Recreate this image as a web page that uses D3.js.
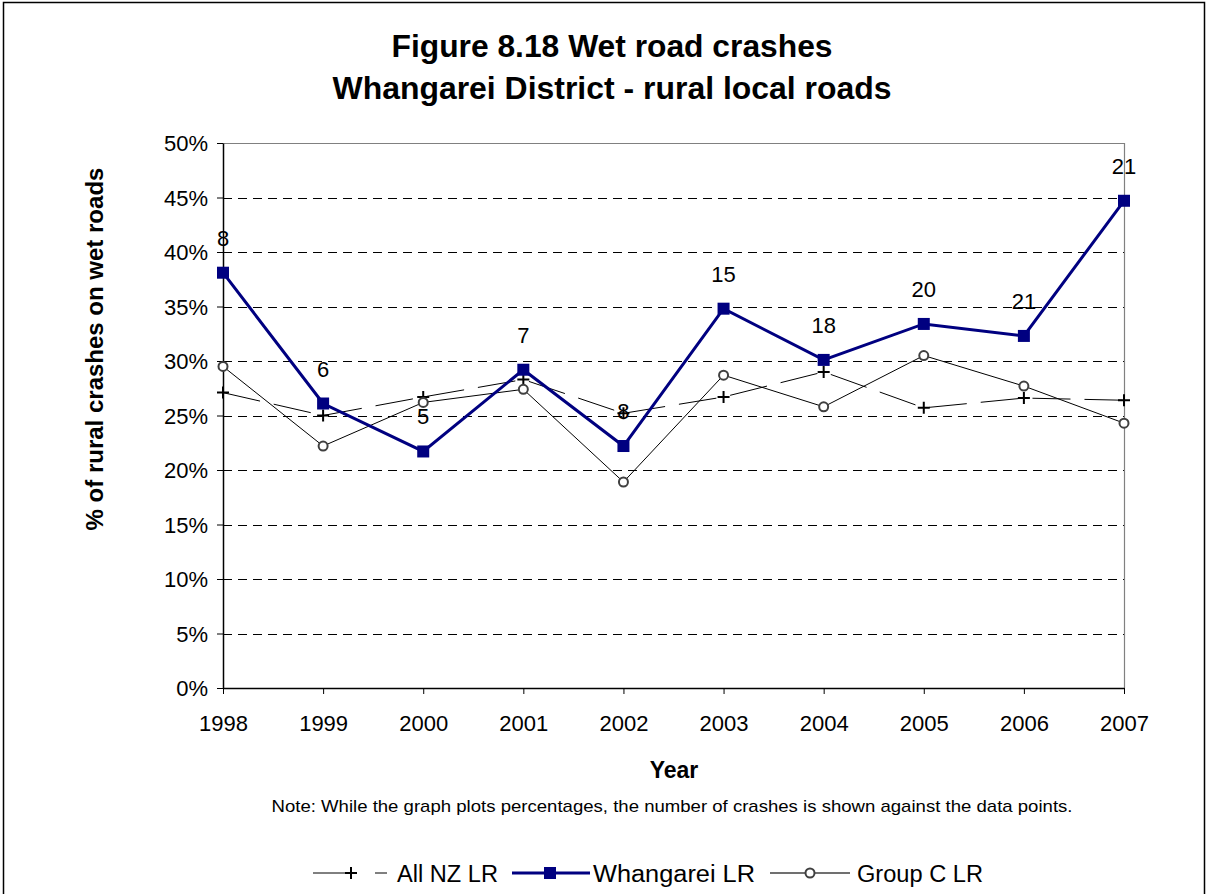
<!DOCTYPE html>
<html><head><meta charset="utf-8">
<script src="https://cdn.jsdelivr.net/npm/d3@7"></script>
<style>body{margin:0;background:#fff}text{font-family:"Liberation Sans",Arial,sans-serif}</style>
</head><body>
<svg id="c" width="1207" height="894"></svg>
<script>
const years = ["1998","1999","2000","2001","2002","2003","2004","2005","2006","2007"];
const allNZ = [27.1,25.0,26.7,28.3,25.2,26.7,29.0,25.7,26.6,26.4];
const whangarei = [38.1,26.1,21.7,29.2,22.2,34.8,30.1,33.4,32.3,44.7];
const groupC = [29.5,22.2,26.2,27.4,18.9,28.7,25.8,30.5,27.7,24.3];
const counts = ["8","6","5","7","8","15","18","20","21","21"];
const yTicks = [0,5,10,15,20,25,30,35,40,45,50];

const svg = d3.select("#c");
const L=223,R=1124,T=143,B=688;
const x = d3.scalePoint().domain(years).range([L,R]);
const y = d3.scaleLinear().domain([0,50]).range([B,T]);

// outer frame
svg.append("path").attr("d","M3.5,894 V2.5 H1204.5 V894").attr("fill","none").attr("stroke","#000").attr("stroke-width",1.5);

// title
svg.append("text").attr("x",612).attr("y",57).attr("text-anchor","middle").attr("font-size",31).attr("font-weight","bold").attr("textLength",441).attr("lengthAdjust","spacingAndGlyphs").text("Figure 8.18 Wet road crashes");
svg.append("text").attr("x",612).attr("y",99).attr("text-anchor","middle").attr("font-size",31).attr("font-weight","bold").attr("textLength",559).attr("lengthAdjust","spacingAndGlyphs").text("Whangarei District - rural local roads");

// gridlines
svg.append("g").selectAll("line").data(yTicks.filter(d=>d>0&&d<50)).join("line")
 .attr("x1",L).attr("x2",R).attr("y1",d=>Math.round(y(d))+0.5).attr("y2",d=>Math.round(y(d))+0.5)
 .attr("stroke","#000").attr("stroke-dasharray","9,6");
// top and right border
svg.append("path").attr("d",`M${L},${T+0.5} H${R+0.5} V${B}`).attr("fill","none").attr("stroke","#808080").attr("stroke-width",1.2);

// axes
const yAxis = svg.append("g").attr("transform",`translate(${L},0)`)
 .call(d3.axisLeft(y).tickValues(yTicks).tickFormat(d=>d+"%").tickSize(6).tickSizeOuter(0));
yAxis.selectAll("text").attr("font-size",22).attr("fill","#000").attr("dx","-6").attr("dy","0.36em");
const xAxis = svg.append("g").attr("transform",`translate(0,${B})`)
 .call(d3.axisBottom(x).tickSize(6).tickSizeOuter(0));
xAxis.selectAll("text").attr("font-size",22).attr("fill","#000").attr("y",43).attr("dy",0);
svg.selectAll(".domain").attr("stroke","#000").attr("stroke-width",1.5);
svg.selectAll(".tick line").attr("stroke","#000");
svg.selectAll(".tick text").attr("font-family","'Liberation Sans',Arial,sans-serif");

// axis titles
svg.append("text").attr("x",674).attr("y",778).attr("text-anchor","middle").attr("font-size",23).attr("font-weight","bold").text("Year");
svg.append("text").attr("transform",`translate(103,349) rotate(-90)`).attr("text-anchor","middle").attr("font-size",24).attr("font-weight","bold").text("% of rural crashes on wet roads");
svg.append("text").attr("x",672).attr("y",812).attr("text-anchor","middle").attr("font-size",17).attr("textLength",801).attr("lengthAdjust","spacingAndGlyphs").text("Note:  While the graph plots percentages, the number of crashes is shown against the data points.");

const line = d3.line().x((d,i)=>x(years[i])).y(d=>y(d));

// All NZ
svg.append("path").datum(allNZ).attr("d",line).attr("fill","none").attr("stroke","#000").attr("stroke-width",1).attr("stroke-dasharray","38,14");
// Group C
svg.append("path").datum(groupC).attr("d",line).attr("fill","none").attr("stroke","#000").attr("stroke-width",1);
// Whangarei
svg.append("path").datum(whangarei).attr("d",line).attr("fill","none").attr("stroke","#000080").attr("stroke-width",3);

function plus(g,cx,cy){g.append("path").attr("d",`M${cx-6},${cy} H${cx+6} M${cx},${cy-6} V${cy+6}`).attr("stroke","#000").attr("stroke-width",2);}
function circ(g,cx,cy){g.append("circle").attr("cx",cx).attr("cy",cy).attr("r",4.5).attr("fill","#fff").attr("stroke","#404040").attr("stroke-width",2);}
function sq(g,cx,cy){g.append("rect").attr("x",cx-6).attr("y",cy-6).attr("width",12).attr("height",12).attr("fill","#000080");}

const gm = svg.append("g");
allNZ.forEach((v,i)=>plus(gm,x(years[i]),y(v)));
groupC.forEach((v,i)=>circ(gm,x(years[i]),y(v)));
whangarei.forEach((v,i)=>sq(gm,x(years[i]),y(v)));

// count labels
svg.append("g").selectAll("text").data(whangarei).join("text")
 .attr("x",(d,i)=>x(years[i])).attr("y",d=>y(d)-27).attr("text-anchor","middle").attr("font-size",22).text((d,i)=>counts[i]);

// legend
const ly=873;
const lg=svg.append("g");
lg.append("line").attr("x1",313).attr("x2",345).attr("y1",ly).attr("y2",ly).attr("stroke","#000");
plus(lg,351,ly);
lg.append("line").attr("x1",375).attr("x2",387).attr("y1",ly).attr("y2",ly).attr("stroke","#000");
lg.append("text").attr("x",397).attr("y",ly+9).attr("font-size",23).attr("textLength",101).attr("lengthAdjust","spacingAndGlyphs").text("All NZ LR");
lg.append("line").attr("x1",512).attr("x2",590).attr("y1",ly).attr("y2",ly).attr("stroke","#000080").attr("stroke-width",3);
sq(lg,550,ly);
lg.append("text").attr("x",593).attr("y",ly+9).attr("font-size",23).attr("textLength",162).attr("lengthAdjust","spacingAndGlyphs").text("Whangarei  LR");
lg.append("line").attr("x1",770).attr("x2",850).attr("y1",ly).attr("y2",ly).attr("stroke","#404040").attr("stroke-width",1.5);
circ(lg,810,ly);
lg.append("text").attr("x",857).attr("y",ly+9).attr("font-size",23).attr("textLength",126).attr("lengthAdjust","spacingAndGlyphs").text("Group C LR");
</script>
</body></html>
